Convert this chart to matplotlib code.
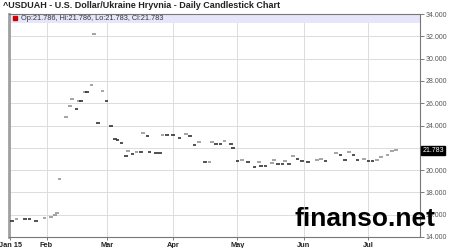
import pandas as pd
import matplotlib
matplotlib.use('Agg')
import matplotlib.pyplot as plt
import matplotlib.transforms as mtransforms

plt.rcParams['font.family'] = ['Liberation Sans', 'DejaVu Sans']

# 数据: 距 2015-01-15 的天数 与 收盘价
start = pd.Timestamp('2015-01-15')
days = [1, 3, 7, 9, 12, 16, 19, 21, 22, 23,
        26, 28, 29, 31, 32, 33, 35, 36, 38, 39,
        41, 43, 45, 47, 49, 50, 52, 54, 55, 57,
        59, 61, 62, 64, 65, 68, 70, 71, 73, 76,
        79, 82, 84, 86, 88, 91, 93, 94, 96, 98,
        100, 103, 104, 106, 108, 111, 114, 116, 117, 119,
        122, 123, 125, 127, 128, 130, 132, 134, 136, 139,
        143, 145, 147, 152, 154, 156, 158, 160, 162, 165,
        167, 169, 171, 173, 176, 178, 180]
closes = [15.42, 15.63, 15.63, 15.57, 15.40, 15.68, 15.81, 15.93, 16.17, 19.23,
          24.74, 25.75, 26.35, 25.45, 26.20, 26.20, 26.97, 26.97, 27.60, 32.18,
          24.20, 27.10, 26.20, 23.96, 22.78, 22.70, 22.47, 21.22, 21.70, 21.40,
          21.58, 21.58, 23.37, 23.07, 21.58, 21.55, 21.55, 23.16, 23.16, 23.16,
          22.90, 23.22, 23.04, 22.24, 22.50, 20.69, 20.75, 22.56, 22.33, 22.33,
          22.65, 22.30, 22.00, 20.81, 20.93, 20.72, 20.28, 20.69, 20.40, 20.33,
          20.63, 20.87, 20.51, 20.51, 20.84, 20.57, 21.24, 21.00, 20.78, 20.72,
          20.87, 21.00, 20.78, 21.53, 21.38, 20.93, 21.62, 21.38, 20.93, 21.00,
          20.78, 20.78, 20.87, 21.13, 21.38, 21.67, 21.783]

tick_days = [0, 17, 45, 76, 106, 137, 167]
tick_labels = ['Jan 15', 'Feb', 'Mar', 'Apr', 'May', 'Jun', 'Jul']
y_ticks = [14, 16, 18, 20, 22, 24, 26, 28, 30, 32, 34]
legend_text = 'Op:21.786, Hi:21.786, Lo:21.783, Cl:21.783'
last_price = 21.783

dates = start + pd.to_timedelta(days, unit='D')
half = pd.Timedelta(days=0.85)

fig = plt.figure(figsize=(4.5, 2.48), dpi=100)
ax = fig.add_axes([0.02, 0.0444, 0.913, 0.8991])

# 网格与图例条
for d in tick_days:
    ax.axvline(start + pd.Timedelta(days=d), color='#dcdcdc', lw=0.7, zorder=0)
for y in y_ticks:
    ax.axhline(y, color='#dcdcdc', lw=0.7, zorder=0)
ax.axhspan(33.2, 34, color='#e6e6fb', zorder=1, lw=0)

# 蜡烛(开收几乎相等, 画成短横线), 上涨灰色, 下跌黑色
colors = ['#222222']
for i in range(1, len(closes)):
    colors.append('#8c8c8c' if closes[i] > closes[i - 1] else '#222222')
ax.hlines(closes, dates - half, dates + half, colors=colors, lw=1.1, zorder=3)

ax.set_xlim(start - pd.Timedelta(days=0.5), start + pd.Timedelta(days=191))
ax.set_ylim(14, 34)
ax.set_xticks([start + pd.Timedelta(days=d) for d in tick_days])
ax.set_xticklabels(tick_labels, fontsize=5.3, fontweight='bold', color='#222222')
ax.set_yticks(y_ticks)
# 22.000 被最新价标签遮住
ax.set_yticklabels(['' if v == 22 else '%.3f' % v for v in y_ticks],
                   fontsize=5, color='#555555')
ax.yaxis.tick_right()
ax.tick_params(axis='y', length=3, width=0.6, color='#666666', pad=1)
ax.tick_params(axis='x', length=2, width=0.6, color='#666666', pad=1.5)

for s in ['top', 'right', 'bottom']:
    ax.spines[s].set_color('#777777')
    ax.spines[s].set_linewidth(0.8)
ax.spines['left'].set_color('#a0a0a0')
ax.spines['left'].set_linewidth(2)

# 图例文字
trans = mtransforms.blended_transform_factory(ax.transAxes, ax.transData)
ax.plot([0.014], [33.6], marker='s', ms=3.5, color='#cc0000', transform=trans,
        clip_on=False, zorder=4)
ax.text(0.03, 33.6, legend_text, transform=trans, fontsize=5.3, va='center',
        color='#333333', zorder=4)

# 最新价标签
ax.text(1.006, last_price, '%.3f' % last_price, transform=trans, fontsize=5,
        color='white', va='center', ha='left',
        bbox=dict(boxstyle='square,pad=0.15', fc='black', ec='black'))

fig.text(0.006, 0.978, '^USDUAH - U.S. Dollar/Ukraine Hryvnia - Daily Candlestick Chart',
         fontsize=6.5, fontweight='bold', color='#222222', va='center', ha='left')

fig.text(0.967, 0.118, 'finanso.net', fontsize=19, fontweight='bold',
         color='black', ha='right', va='center', zorder=10)

fig.savefig('out.png', dpi=100)
